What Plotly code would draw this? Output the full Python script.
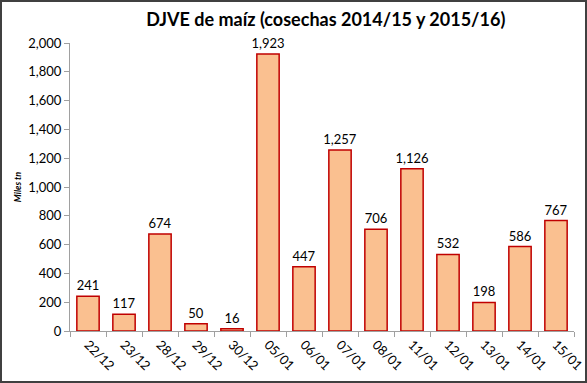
import plotly.graph_objects as go

categories = ["22/12", "23/12", "28/12", "29/12", "30/12", "05/01", "06/01", "07/01",
              "08/01", "11/01", "12/01", "13/01", "14/01", "15/01"]
values = [241, 117, 674, 50, 16, 1923, 447, 1257, 706, 1126, 532, 198, 586, 767]
labels = [f"{v:,}" for v in values]
y_ticks = list(range(0, 2001, 200))
y_ticktext = [f"{v:,}" for v in y_ticks]

FONT = "Lato, Carlito, Calibri, sans-serif"

fig = go.Figure(go.Bar(
    x=categories, y=values, text=labels, textposition="outside",
    constraintext="none",
    textfont=dict(size=13, color="black", family=FONT),
    marker=dict(color="#FAC090", line=dict(color="#C00000", width=1.5)),
    cliponaxis=False,
))

W, H = 504, 288
fig.update_layout(
    width=587, height=383,
    margin=dict(l=70, r=13, t=43, b=52, autoexpand=False),
    paper_bgcolor="white", plot_bgcolor="white",
    bargap=0.38,
    showlegend=False,
    title=dict(text="<b>DJVE de maíz (cosechas 2014/15 y 2015/16)</b>",
               x=0.555, xanchor="center", y=0.948, yanchor="middle",
               font=dict(size=18, color="black", family=FONT)),
    font=dict(family=FONT, color="black"),
    shapes=[dict(type="rect", xref="paper", yref="paper",
                 x0=-69/W, x1=1 + 12/W, y0=-51/H, y1=1 + 42/H,
                 line=dict(color="#404040", width=2))],
)
fig.update_xaxes(
    type="category", tickangle=45, tickfont=dict(size=13, family=FONT),
    showline=True, linecolor="#A0A0A0", linewidth=1, automargin=False,
    ticks="outside", ticklen=5, tickcolor="#A0A0A0", tickson="boundaries",
    showgrid=False,
)
fig.update_yaxes(
    range=[0, 2000], tickvals=y_ticks, ticktext=y_ticktext, automargin=False,
    tickfont=dict(size=13, family=FONT),
    showline=True, linecolor="#A0A0A0", linewidth=1,
    ticks="outside", ticklen=5, tickcolor="#A0A0A0", showgrid=False, zeroline=False,
    title=dict(text="<b><i>Miles tn</i></b>", font=dict(size=9, family=FONT), standoff=5),
)

fig.write_html("out.html", config={"displayModeBar": False},
               post_script="document.body.style.margin='0';document.body.style.overflow='hidden';")
